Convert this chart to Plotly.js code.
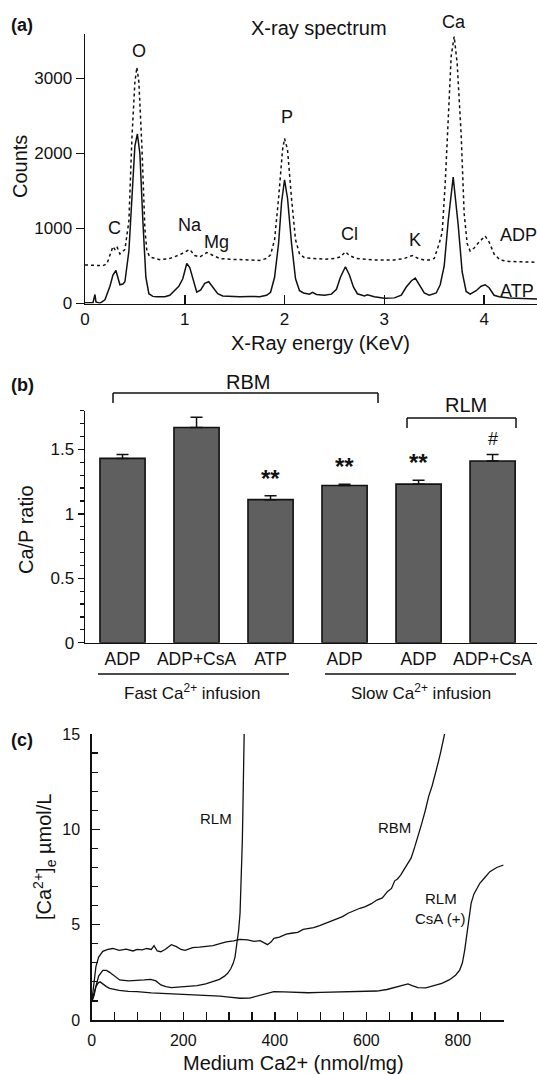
<!DOCTYPE html>
<html>
<head>
<meta charset="utf-8">
<script src="https://cdn.plot.ly/plotly-3.0.1.min.js"></script>
<style>html,body{margin:0;padding:0;background:#fff;}#chart{width:537px;height:1074px;}</style>
</head>
<body>
<div id="chart"></div>
<script>
// ---------- Panel (a): X-ray spectrum ----------
const atpEnergy = [0.00,0.05,0.08,0.10,0.11,0.15,0.20,0.25,0.28,0.31,0.33,0.35,0.38,0.40,0.44,0.47,0.50,0.525,0.55,0.58,0.61,0.64,0.68,0.72,0.76,0.80,0.85,0.90,0.94,0.98,1.02,1.05,1.08,1.12,1.16,1.20,1.24,1.28,1.33,1.38,1.45,1.55,1.65,1.75,1.82,1.86,1.90,1.94,1.97,2.00,2.03,2.07,2.11,2.15,2.19,2.25,2.28,2.32,2.40,2.47,2.52,2.56,2.61,2.65,2.69,2.73,2.80,2.83,2.90,3.00,3.10,3.17,3.22,3.27,3.31,3.35,3.40,3.45,3.52,3.56,3.60,3.64,3.69,3.74,3.78,3.82,3.86,3.92,3.97,4.01,4.05,4.10,4.15,4.25,4.35,4.45,4.53];
const atpCounts = [10,5,10,120,20,5,50,230,380,440,330,250,260,290,700,1400,2100,2260,2000,1100,350,130,95,90,95,90,110,180,230,330,533,480,340,150,180,270,290,220,130,100,95,90,95,90,110,150,350,800,1350,1650,1400,800,330,170,140,125,150,120,110,125,190,350,490,380,220,130,100,115,90,70,75,110,220,300,340,250,140,110,140,250,500,1100,1685,1050,420,160,125,170,230,250,210,110,90,75,70,60,60];

const adpEnergy = [0.00,0.10,0.18,0.22,0.25,0.28,0.30,0.32,0.35,0.38,0.40,0.44,0.47,0.50,0.52,0.54,0.57,0.60,0.62,0.65,0.75,0.85,0.95,1.02,1.05,1.10,1.15,1.22,1.28,1.35,1.45,1.55,1.65,1.75,1.82,1.86,1.90,1.94,1.98,2.00,2.03,2.07,2.11,2.15,2.20,2.30,2.40,2.50,2.56,2.61,2.65,2.72,2.80,2.90,3.00,3.10,3.20,3.28,3.34,3.40,3.45,3.50,3.55,3.58,3.61,3.64,3.67,3.70,3.73,3.77,3.80,3.83,3.86,3.90,3.95,4.01,4.05,4.10,4.16,4.25,4.36,4.53];
const adpCounts = [515,510,505,530,640,760,720,760,660,690,720,1100,2200,2950,3150,2950,2100,1000,700,620,585,600,650,700,720,640,620,680,640,600,590,580,580,575,600,650,850,1400,2050,2200,2050,1400,850,660,610,600,590,600,620,690,640,600,590,580,580,580,600,640,600,580,580,600,800,950,1600,2500,3300,3560,3200,2250,1200,800,700,740,820,900,820,660,580,560,555,550];

// ---------- Panel (b): Ca/P ratio ----------
const barCategories = ["ADP","ADP+CsA","ATP","ADP","ADP","ADP+CsA"];
const caPRatio = [1.43,1.67,1.11,1.22,1.23,1.41];
const caPErrPlus = [0.03,0.08,0.03,0.01,0.03,0.05];
const significance = ["","","**","**","**","#"];

// ---------- Panel (c): extramitochondrial Ca2+ ----------
const rlmX = [0,5,9,15,24,32,39,50,61,80,99,115,129,140,151,162,174,190,211,230,249,265,279,290,297,304,309,313,316,319,321,324,326,328,329,330,331,332,333];
const rlmY = [0.96,1.4,1.9,2.3,2.6,2.6,2.5,2.3,2.1,2.05,2.06,2.1,2.13,2.05,1.84,1.75,1.7,1.72,1.75,1.8,1.89,2.0,2.13,2.3,2.45,2.7,2.97,3.3,3.9,4.2,4.72,5.6,6.8,8.0,9.4,10.7,12.06,13.5,15];
const rbmX = [0,5,9,15,24,35,46,60,75,90,99,110,120,130,136,143,151,160,174,185,195,204,220,235,249,265,280,294,310,324,340,355,368,378,384,392,398,410,425,436,450,462,473,485,498,511,525,537,548,560,573,586,598,611,623,635,646,655,662,668,675,683,691,698,706,713,721,729,736,744,751,757,762,767,771];
const rbmY = [0.96,2.0,2.8,3.3,3.6,3.7,3.75,3.65,3.72,3.62,3.7,3.68,3.75,3.7,3.9,3.62,3.58,3.7,3.95,3.85,3.7,3.65,3.8,3.82,3.85,3.9,4.0,4.1,4.15,4.23,4.2,4.12,4.16,4.05,3.95,4.1,4.28,4.35,4.5,4.55,4.6,4.75,4.8,4.85,4.95,5.07,5.2,5.35,5.42,5.6,5.75,5.86,5.95,6.1,6.29,6.4,6.73,6.9,7.3,7.4,7.6,7.9,8.22,8.5,9.09,9.6,10.3,11.0,11.7,12.3,12.9,13.5,14.0,14.5,15];
const rlmCsaX = [0,5,9,14,18,25,32,39,60,80,99,130,150,174,200,230,249,280,300,324,345,361,380,398,420,450,473,500,548,580,623,645,661,680,691,700,713,730,751,765,781,795,804,810,815,819,822,826,829,835,848,860,870,885,900];
const rlmCsaY = [0.96,1.3,1.75,1.95,2.0,1.85,1.75,1.66,1.55,1.5,1.49,1.42,1.4,1.36,1.33,1.32,1.31,1.25,1.2,1.14,1.15,1.26,1.4,1.49,1.47,1.44,1.43,1.45,1.49,1.48,1.52,1.6,1.7,1.8,1.89,1.8,1.7,1.68,1.84,1.92,2.1,2.35,2.62,3.0,3.67,4.4,5.07,5.7,6.12,6.6,7.17,7.5,7.78,8.0,8.13];

const W = 537, H = 1074;
const px = x => x / W;
const py = y => 1 - y / H;
const FONT = "Liberation Sans, Arial, Helvetica, sans-serif";

const traces = [
  {x: adpEnergy, y: adpCounts, type: 'scatter', mode: 'lines', xaxis: 'x', yaxis: 'y',
   line: {color: '#111', width: 1.5, dash: '3px,3px'}, hoverinfo: 'skip'},
  {x: atpEnergy, y: atpCounts, type: 'scatter', mode: 'lines', xaxis: 'x', yaxis: 'y',
   line: {color: '#111', width: 1.5}, hoverinfo: 'skip'},
  {x: barCategories.map((c, i) => i), y: caPRatio, type: 'bar', xaxis: 'x2', yaxis: 'y2', width: 0.61,
   marker: {color: '#5f5f5f', line: {color: '#111', width: 1.6}},
   error_y: {type: 'data', symmetric: false, array: caPErrPlus, arrayminus: caPErrPlus.map(() => 0),
             color: '#111', thickness: 1.5, width: 6}},
  {x: rlmX, y: rlmY, type: 'scatter', mode: 'lines', xaxis: 'x3', yaxis: 'y3', line: {color: '#111', width: 1.3}},
  {x: rbmX, y: rbmY, type: 'scatter', mode: 'lines', xaxis: 'x3', yaxis: 'y3', line: {color: '#111', width: 1.3}},
  {x: rlmCsaX, y: rlmCsaY, type: 'scatter', mode: 'lines', xaxis: 'x3', yaxis: 'y3', line: {color: '#111', width: 1.3}}
];

const axBase = {showgrid: false, zeroline: false, showline: true, linecolor: '#111', linewidth: 1.5,
                tickcolor: '#111', tickwidth: 1.5, fixedrange: true};

function ann(text, x, y, size, opts) {
  return Object.assign({text: text, x: px(x), y: py(y), xref: 'paper', yref: 'paper', showarrow: false,
    xanchor: 'center', yanchor: 'middle', font: {family: FONT, size: size, color: '#111'}}, opts || {});
}

const annotations = [
  ann('<b>(a)</b>', 22, 25, 18),
  ann('<b>(b)</b>', 22, 385, 18),
  ann('<b>(c)</b>', 22, 740, 18),
  ann('X-ray spectrum', 319, 28, 20),
  ann('Counts', 20, 167, 20, {textangle: -90}),
  ann('X-Ray energy (KeV)', 320, 343, 20),
  ann('O', 139, 51, 18), ann('C', 114, 228, 18), ann('Na', 190, 225, 18), ann('Mg', 216, 242, 18),
  ann('P', 287, 117, 18), ann('Cl', 349, 234, 18), ann('K', 415, 240, 18), ann('Ca', 454, 22, 18),
  ann('ADP', 498, 235, 18, {xanchor: 'left'}), ann('ATP', 498, 291, 18, {xanchor: 'left'}),
  ann('RBM', 248, 382, 20), ann('RLM', 466, 405, 20),
  ann('Ca/P ratio', 26, 530, 20, {textangle: -90}),
  ann('Fast Ca<sup>2+</sup> infusion', 192, 692, 17),
  ann('Slow Ca<sup>2+</sup> infusion', 421, 692, 17),
  ann('[Ca<sup>2+</sup>]<sub>e</sub> µmol/L', 44, 857, 20, {textangle: -90}),
  ann('Medium Ca2+ (nmol/mg)', 293, 1063, 20),
  ann('RLM', 216, 818, 15), ann('RBM', 394, 827, 15), ann('RLM', 441, 898, 15), ann('CsA (+)', 440, 918, 15)
];
// significance marks above bars
significance.forEach((s, i) => {
  if (!s) return;
  const isStar = s === '**';
  annotations.push({text: isStar ? '<b>' + s + '</b>' : s, x: i, y: caPRatio[i] + caPErrPlus[i],
    xref: 'x2', yref: 'y2', showarrow: false, xanchor: 'center', yanchor: 'bottom',
    yshift: isStar ? 2 : 4, font: {family: FONT, size: isStar ? 24 : 18, color: '#111'}});
});

function hline(x0, x1, y) {
  return {type: 'line', xref: 'paper', yref: 'paper', x0: px(x0), x1: px(x1), y0: py(y), y1: py(y),
          line: {color: '#111', width: 1.5}};
}
function vline(x, y0, y1) {
  return {type: 'line', xref: 'paper', yref: 'paper', x0: px(x), x1: px(x), y0: py(y0), y1: py(y1),
          line: {color: '#111', width: 1.5}};
}
const shapes = [
  hline(113, 378, 393), vline(113, 393, 403), vline(378, 393, 403),
  hline(407, 516, 418), vline(407, 418, 428), vline(516, 418, 428),
  hline(98, 289, 674), hline(325, 516, 674)
];

const layout = {
  width: W, height: H, margin: {l: 0, r: 0, t: 0, b: 0}, showlegend: false,
  paper_bgcolor: '#fff', plot_bgcolor: 'rgba(0,0,0,0)',
  font: {family: FONT, color: '#111', size: 16},
  xaxis: Object.assign({}, axBase, {domain: [px(85), 1], range: [0, 4.53], anchor: 'y',
    tickvals: [0, 1, 2, 3, 4], ticks: 'inside', ticklen: 9, tickfont: {size: 17}, ticklabelstandoff: 0}),
  yaxis: Object.assign({}, axBase, {domain: [py(303.5), py(33.5)], range: [0, 3600], anchor: 'x',
    tickvals: [0, 1000, 2000, 3000], ticks: 'outside', ticklen: 8, tickfont: {size: 17}}),
  xaxis2: Object.assign({}, axBase, {domain: [px(85), 1], range: [-0.507, 5.6], anchor: 'y2',
    tickvals: barCategories.map((c, i) => i), ticktext: barCategories, ticks: '', tickfont: {size: 17.5}}),
  yaxis2: Object.assign({}, axBase, {domain: [py(642.7), py(410.7)], range: [0, 1.8], anchor: 'x2',
    tickvals: [0, 0.5, 1, 1.5], ticks: 'outside', ticklen: 6, tickfont: {size: 17},
    minor: {dtick: 0.1, ticks: 'outside', ticklen: 4, tickcolor: '#111', tickwidth: 1.2}}),
  xaxis3: Object.assign({}, axBase, {domain: [px(91.8), px(503.6)], range: [0, 900], anchor: 'y3',
    tickvals: [0, 200, 400, 600, 800], ticks: 'inside', ticklen: 8, tickfont: {size: 16}, ticklabelstandoff: 5,
    minor: {dtick: 50, ticks: 'inside', ticklen: 8, tickcolor: '#111', tickwidth: 1.2}}),
  yaxis3: Object.assign({}, axBase, {domain: [py(1020), py(734)], range: [0, 15], anchor: 'x3',
    tickvals: [0, 5, 10, 15], ticks: 'inside', ticklen: 8, tickfont: {size: 16}, ticklabelstandoff: 7,
    minor: {dtick: 1, ticks: 'inside', ticklen: 6, tickcolor: '#111', tickwidth: 1.2}}),
  annotations: annotations,
  shapes: shapes
};

Plotly.newPlot('chart', traces, layout, {staticPlot: true, displayModeBar: false});
</script>
</body>
</html>
